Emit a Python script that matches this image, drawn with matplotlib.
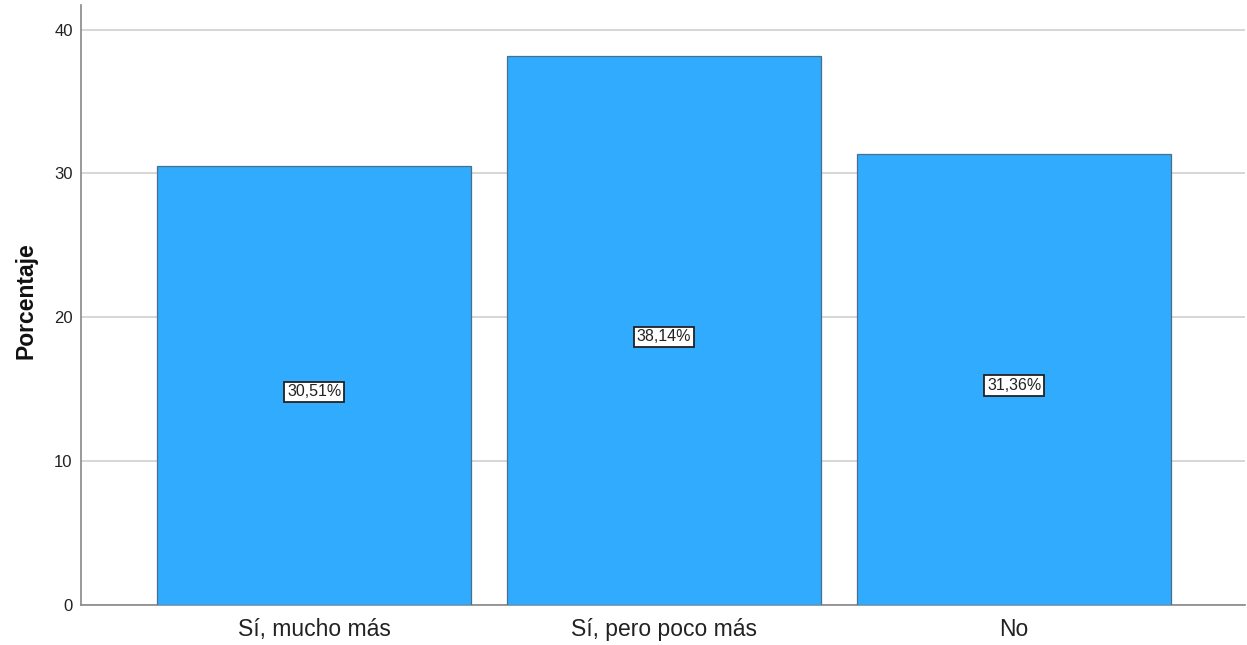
import matplotlib
matplotlib.use("Agg")
import matplotlib.pyplot as plt

categories = ["Sí, mucho más", "Sí, pero poco más", "No"]
values = [30.51, 38.14, 31.36]
labels = ["30,51%", "38,14%", "31,36%"]
yticks = [0, 10, 20, 30, 40]

fig = plt.figure(figsize=(12.47, 6.45), dpi=100)
ax = fig.add_axes([0.065, 0.062, 0.9335, 0.930])

x = list(range(len(categories)))
bars = ax.bar(x, values, width=0.897, color="#31ABFD", edgecolor="#4a6e8c", linewidth=0.9, zorder=3)

for xi, v, lab in zip(x, values, labels):
    ax.annotate(lab, xy=(xi, v / 2), xytext=(0, -4.5), textcoords="offset points",
                ha="center", va="center", fontsize=11.5, color="#222222",
                family="Liberation Sans",
                bbox=dict(boxstyle="square,pad=0.17", facecolor="white", edgecolor="#222222", linewidth=1.3),
                zorder=5)

ax.set_xlim(-0.666, 2.66)
ax.set_ylim(0, 41.7)
ax.set_yticks(yticks)
ax.set_yticklabels([str(t) for t in yticks], fontsize=12, family="Liberation Sans", color="#222222")
ax.set_xticks(x)
ax.set_xticklabels(categories, fontsize=16.5, family="Liberation Sans", color="#222222")
ax.tick_params(axis="both", length=0)
ax.tick_params(axis="y", pad=6)
ax.tick_params(axis="x", pad=9)
ax.grid(axis="y", color="#cfcfcf", linewidth=1.2, zorder=0)
ax.set_axisbelow(True)

for s in ["top", "right"]:
    ax.spines[s].set_visible(False)
for s in ["left", "bottom"]:
    ax.spines[s].set_color("#888888")
    ax.spines[s].set_linewidth(1.2)

ax.set_ylabel("Porcentaje", fontsize=16.5, fontweight="bold", family="Liberation Sans", color="#111111")
ax.yaxis.set_label_coords(-0.037, 0.508)

fig.savefig("out.png", dpi=100)
